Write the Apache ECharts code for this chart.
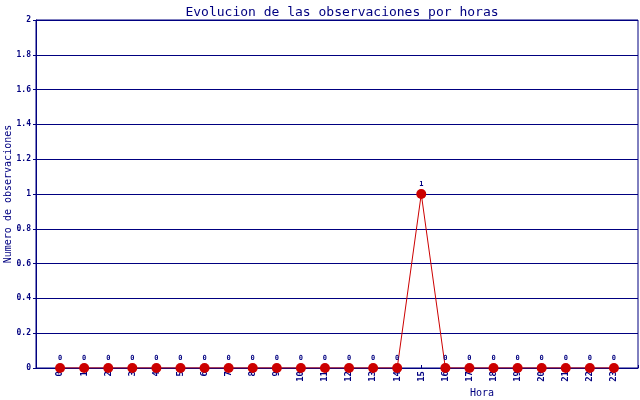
<!DOCTYPE html>
<html><head><meta charset="utf-8">
<script src="https://cdn.jsdelivr.net/npm/echarts@6/dist/echarts.min.js"></script>
<style>html,body{margin:0;padding:0;background:#fff}#c{width:640px;height:400px}</style>
</head><body><div id="c"></div>
<script>
var hours = [0,1,2,3,4,5,6,7,8,9,10,11,12,13,14,15,16,17,18,19,20,21,22,23];
var counts = [0,0,0,0,0,0,0,0,0,0,0,0,0,0,0,1,0,0,0,0,0,0,0,0];
var titleText = 'Evolucion de las observaciones por horas';
var xName = 'Hora';
var yName = 'Numero de observaciones';
var NAVY = '#000080';
var FONT = 'DejaVu Sans Mono';
var chart = echarts.init(document.getElementById('c'));
chart.setOption({
  animation: false,
  backgroundColor: '#ffffff',
  title: {text: titleText, left: 337, top: 1, textAlign: 'center',
    textStyle: {color: NAVY, fontFamily: FONT, fontSize: 13, fontWeight: 'normal'}},
  grid: {left: 36, right: 2, top: 20, bottom: 32, containLabel: false, outerBoundsMode: 'none',
    show: true, borderColor: NAVY, borderWidth: 1},
  graphic: [{type: 'text', left: 470, top: 388, style: {text: xName, fill: NAVY, font: '10px ' + FONT}}],
  xAxis: {type: 'value', min: -1, max: 24, interval: 1,
    axisLine: {show: true, onZero: false, lineStyle: {color: NAVY}},
    axisTick: {show: true, inside: true, length: 3, lineStyle: {color: NAVY}},
    splitLine: {show: false},
    axisLabel: {rotate: 90, color: NAVY, fontFamily: FONT, fontSize: 9, fontWeight: 'bold', margin: 3,
      formatter: function(v){ return (v < 0 || v > 23) ? '' : String(v); }}},
  yAxis: {type: 'value', min: 0, max: 2, interval: 0.2,
    name: yName, nameLocation: 'middle', nameGap: 23, nameMoveOverlap: false,
    nameTextStyle: {color: NAVY, fontFamily: FONT, fontSize: 10},
    axisLine: {show: true, onZero: false, lineStyle: {color: NAVY}},
    axisTick: {show: true, length: 3, lineStyle: {color: NAVY}},
    splitLine: {show: true, lineStyle: {color: NAVY, width: 1}},
    axisLabel: {color: NAVY, fontFamily: FONT, fontSize: 8, fontWeight: 'bold', margin: 5,
      formatter: function(v){ return String(Math.round(v*10)/10); }}},
  series: [{type: 'line', data: hours.map(function(h,i){ return [h, counts[i]]; }),
    symbol: 'circle', symbolSize: 10,
    itemStyle: {color: '#cc0000'},
    lineStyle: {color: '#cc0000', width: 1},
    label: {show: true, position: 'top', distance: 1, color: NAVY, fontFamily: FONT, fontSize: 7, fontWeight: 'bold'}}]
});
</script></body></html>
